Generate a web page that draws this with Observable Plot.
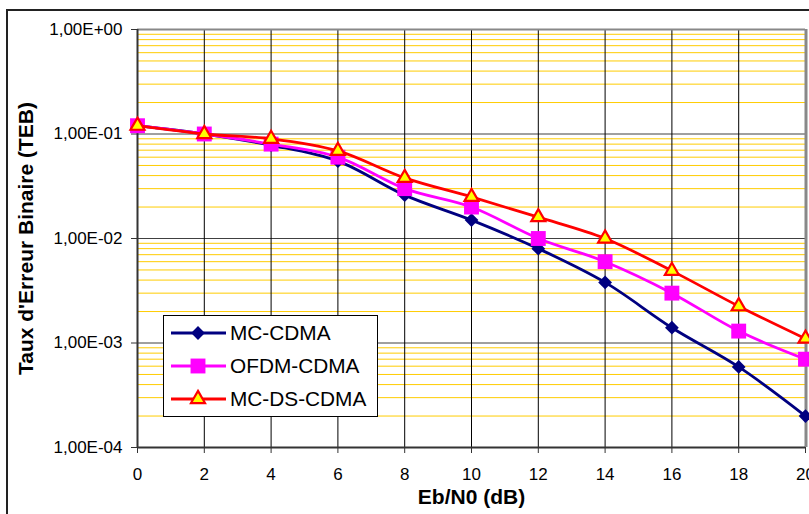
<!DOCTYPE html>
<html>
<head>
<meta charset="utf-8">
<script src="https://cdn.jsdelivr.net/npm/d3@7"></script>
<script src="https://cdn.jsdelivr.net/npm/@observablehq/plot@0.6"></script>
<style>
  html, body { margin: 0; padding: 0; background: #fff; }
  #wrap { position: relative; width: 809px; height: 514px; overflow: hidden; font-family: "Liberation Sans", Arial, sans-serif; }
  #frame { position: absolute; left: 6px; top: 9px; right: -10px; bottom: -10px; border-left: 2px solid #222; border-top: 2px solid #222; pointer-events: none; }
  #legend { position: absolute; left: 163px; top: 315px; width: 215px; height: 102px; background: #fff; border: 1px solid #000; box-sizing: border-box; }
  #legend svg { display: block; }
</style>
</head>
<body>
<div id="wrap"><div id="frame"></div></div>
<script>
// ---- data ----
const ebn0 = [0, 2, 4, 6, 8, 10, 12, 14, 16, 18, 20];
const seriesNames = ["MC-CDMA", "OFDM-CDMA", "MC-DS-CDMA"];
const mcCdma   = [0.12, 0.10, 0.078, 0.055, 0.026, 0.015, 0.0080, 0.0038, 0.0014, 0.00059, 0.00020];
const ofdmCdma = [0.12, 0.10, 0.080, 0.060, 0.030, 0.020, 0.0100, 0.0060, 0.0030, 0.00130, 0.00070];
const mcDsCdma = [0.12, 0.10, 0.090, 0.069, 0.038, 0.025, 0.0160, 0.0100, 0.0049, 0.00225, 0.00110];
const xTicks = [0, 2, 4, 6, 8, 10, 12, 14, 16, 18, 20];
const yTicks = [1e-4, 1e-3, 1e-2, 1e-1, 1];
const yTickLabels = ["1,00E-04", "1,00E-03", "1,00E-02", "1,00E-01", "1,00E+00"];
const xTitle = "Eb/N0 (dB)";
const yTitle = "Taux d'Erreur Binaire (TEB)";

// ---- styles ----
const styles = [
  {stroke: "#000080", fill: "#000080", symbol: "diamond2", r: 6.2, sw: 0},
  {stroke: "#FF00FF", fill: "#FF00FF", symbol: "square", r: 8.4, sw: 0},
  {stroke: "#FF0000", fill: "#FFFF00", symbol: "triangle", r: 5.2, sw: 2.2}
];
const seriesValues = [mcCdma, ofdmCdma, mcDsCdma];
const tables = seriesValues.map((vals, k) => ebn0.map((x, i) => ({x, y: vals[i], s: seriesNames[k]})));

const minorGrid = [];
for (let e = -4; e < 0; e++) for (let m = 2; m <= 9; m++) minorGrid.push(m * Math.pow(10, e));

const seriesMarks = [];
tables.forEach((t, k) => {
  const st = styles[k];
  seriesMarks.push(Plot.line(t, {x: "x", y: "y", stroke: st.stroke, strokeWidth: 2.8, curve: "catmull-rom"}));
  seriesMarks.push(Plot.dot(t, {x: "x", y: "y", symbol: () => st.symbol, r: st.r, fill: st.fill,
    stroke: st.sw ? st.stroke : "none", strokeWidth: st.sw, strokeLinejoin: "miter"}));
});

const FONT = "'Liberation Sans', Arial, sans-serif";
const chart = Plot.plot({
  width: 809,
  height: 514,
  marginLeft: 137,
  marginRight: 4,
  marginTop: 29,
  marginBottom: 67,
  style: {fontFamily: FONT, fontSize: "17px", background: "transparent", overflow: "visible"},
  x: {domain: [0, 20]},
  y: {type: "log", domain: [1e-4, 1]},
  marks: [
    Plot.ruleY(minorGrid, {stroke: "#FFCC00", strokeWidth: 1}),
    Plot.ruleY([1e-3, 1e-2, 1e-1], {stroke: "#404040", strokeWidth: 1}),
    Plot.ruleX(xTicks.filter(d => d > 0 && d < 20), {stroke: "#000", strokeWidth: 1}),
    Plot.ruleY([1], {stroke: "#888", strokeWidth: 2}),
    Plot.ruleX([20], {stroke: "#888", strokeWidth: 3, dx: 0.5}),
    Plot.ruleX([0], {stroke: "#333", strokeWidth: 2}),
    Plot.ruleY([1e-4], {stroke: "#333", strokeWidth: 2}),
    Plot.axisX({ticks: xTicks, tickSize: 6, tickPadding: 14, label: null, stroke: "#333", fill: "#000", fontSize: 17, fontFamily: FONT}),
    Plot.axisY({ticks: yTicks, tickFormat: d => yTickLabels[yTicks.indexOf(d)], tickSize: 6, tickPadding: 9, label: null, stroke: "#333", fill: "#000", fontSize: 17, fontFamily: FONT}),
    ...seriesMarks,
    Plot.text([xTitle], {frameAnchor: "bottom", textAnchor: "middle", dy: 56, fontWeight: "bold", fontSize: 21, fill: "#000", fontFamily: FONT}),
    Plot.text([yTitle], {frameAnchor: "left", textAnchor: "middle", rotate: -90, dx: -111.5, dy: 0, fontWeight: "bold", fontSize: 21, fill: "#000", fontFamily: FONT})
  ]
});
document.getElementById("wrap").prepend(chart);

// ---- legend ----
const legend = document.createElement("div");
legend.id = "legend";
const lsvg = d3.create("svg").attr("width", 213).attr("height", 100).style("font-family", FONT);
const symbolFor = {diamond2: d3.symbolDiamond2 || d3.symbolDiamond, square: d3.symbolSquare, triangle: d3.symbolTriangle};
seriesNames.forEach((name, k) => {
  const st = styles[k];
  const cy = 17 + k * 33;
  const g = lsvg.append("g");
  g.append("line").attr("x1", 7).attr("x2", 62).attr("y1", cy).attr("y2", cy)
    .attr("stroke", st.stroke).attr("stroke-width", 2.8);
  g.append("path").attr("transform", `translate(34,${cy})`)
    .attr("d", d3.symbol(symbolFor[st.symbol], Math.PI * st.r * st.r)())
    .attr("fill", st.fill).attr("stroke", st.sw ? st.stroke : "none").attr("stroke-width", st.sw)
    .attr("stroke-linejoin", "miter");
  g.append("text").attr("x", 66).attr("y", cy).attr("dy", "0.36em")
    .attr("font-size", 20.8).attr("fill", "#000").text(name);
});
legend.appendChild(lsvg.node());
document.getElementById("wrap").appendChild(legend);
</script>
</body>
</html>
